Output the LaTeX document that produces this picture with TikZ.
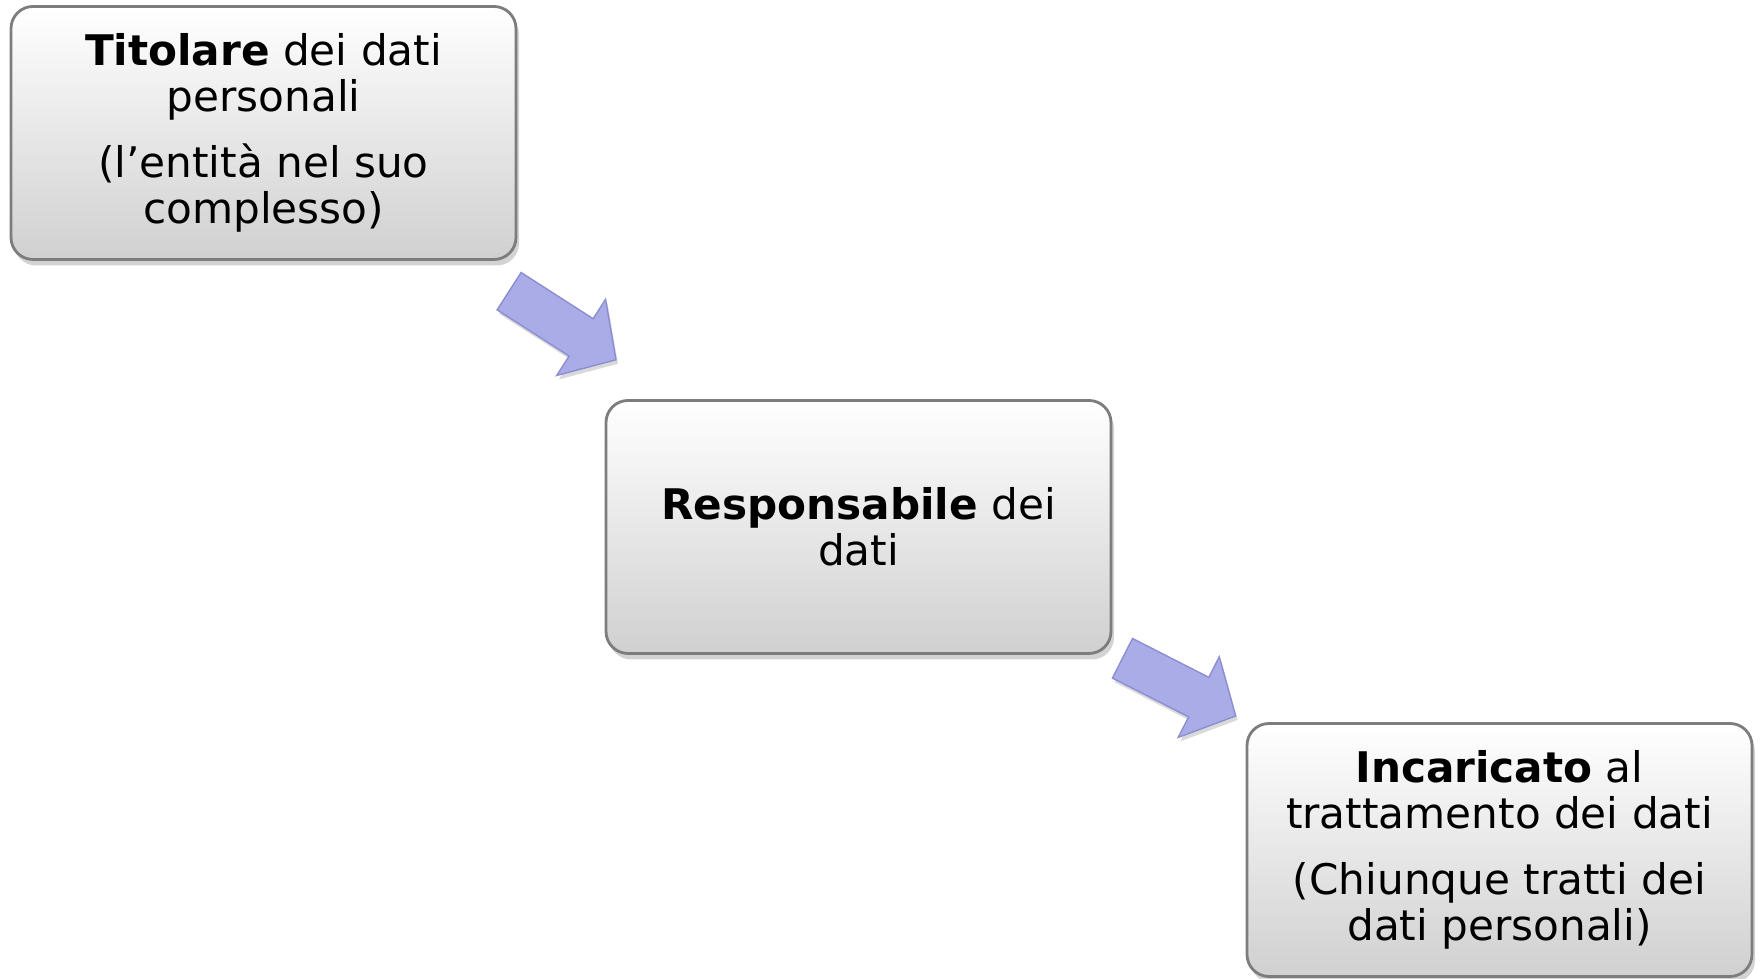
\documentclass[tikz,border=0pt]{standalone}
\usepackage{fontspec}
\setmainfont{DejaVu Sans}
\usepackage{xcolor}
\usetikzlibrary{calc, shapes.arrows, shadows}

\definecolor{boxedge}{RGB}{125,125,125}
\definecolor{boxbottom}{RGB}{208,208,208}
\definecolor{arrowfill}{RGB}{170,172,232}
\definecolor{arrowedge}{RGB}{140,142,210}

\begin{document}
\begin{tikzpicture}[
    ruolo/.style={rectangle, rounded corners=0.22cm, draw=boxedge, line width=0.8pt,
      top color=white, bottom color=boxbottom,
      drop shadow={opacity=0.35, shadow xshift=0.03cm, shadow yshift=-0.06cm},
      minimum width=5.05cm, minimum height=2.53cm, align=center,
      font=\fontsize{12}{13.1}\selectfont},
    freccia/.style={single arrow, fill=arrowfill, draw=arrowedge, line width=0.4pt,
      inner xsep=0pt, inner ysep=0.215cm, minimum height=1.27cm,
      single arrow head extend=0.23cm, single arrow tip angle=95,
      drop shadow={opacity=0.3, shadow xshift=0.02cm, shadow yshift=-0.04cm}}
  ]
    % Fix the size of the picture
    \useasboundingbox (0,0) rectangle (17.6,9.79);

    % Draw the boxes
    \node[ruolo] (titolare) at (2.635,8.46)
      {\textbf{Titolare} dei dati\\personali\\[5.8pt](l’entità nel suo\\complesso)};
    \node[ruolo] (responsabile) at (8.585,4.52)
      {\textbf{Responsabile} dei\\dati};
    \node[ruolo] (incaricato) at (14.995,1.29)
      {\textbf{Incaricato} al\\trattamento dei dati\\[5.8pt](Chiunque tratti dei\\dati personali)};

    % Draw the arrows
    \node[freccia, rotate=-32.7] (freccia1)
      at ($(titolare.south east)!0.5!(responsabile.north west)+(-0.07,0.1)$) {};
    \node[freccia, rotate=-27] (freccia2)
      at ($(responsabile.south east)!0.5!(incaricato.north west)+(-0.09,0.06)$) {};

\end{tikzpicture}
\end{document}
